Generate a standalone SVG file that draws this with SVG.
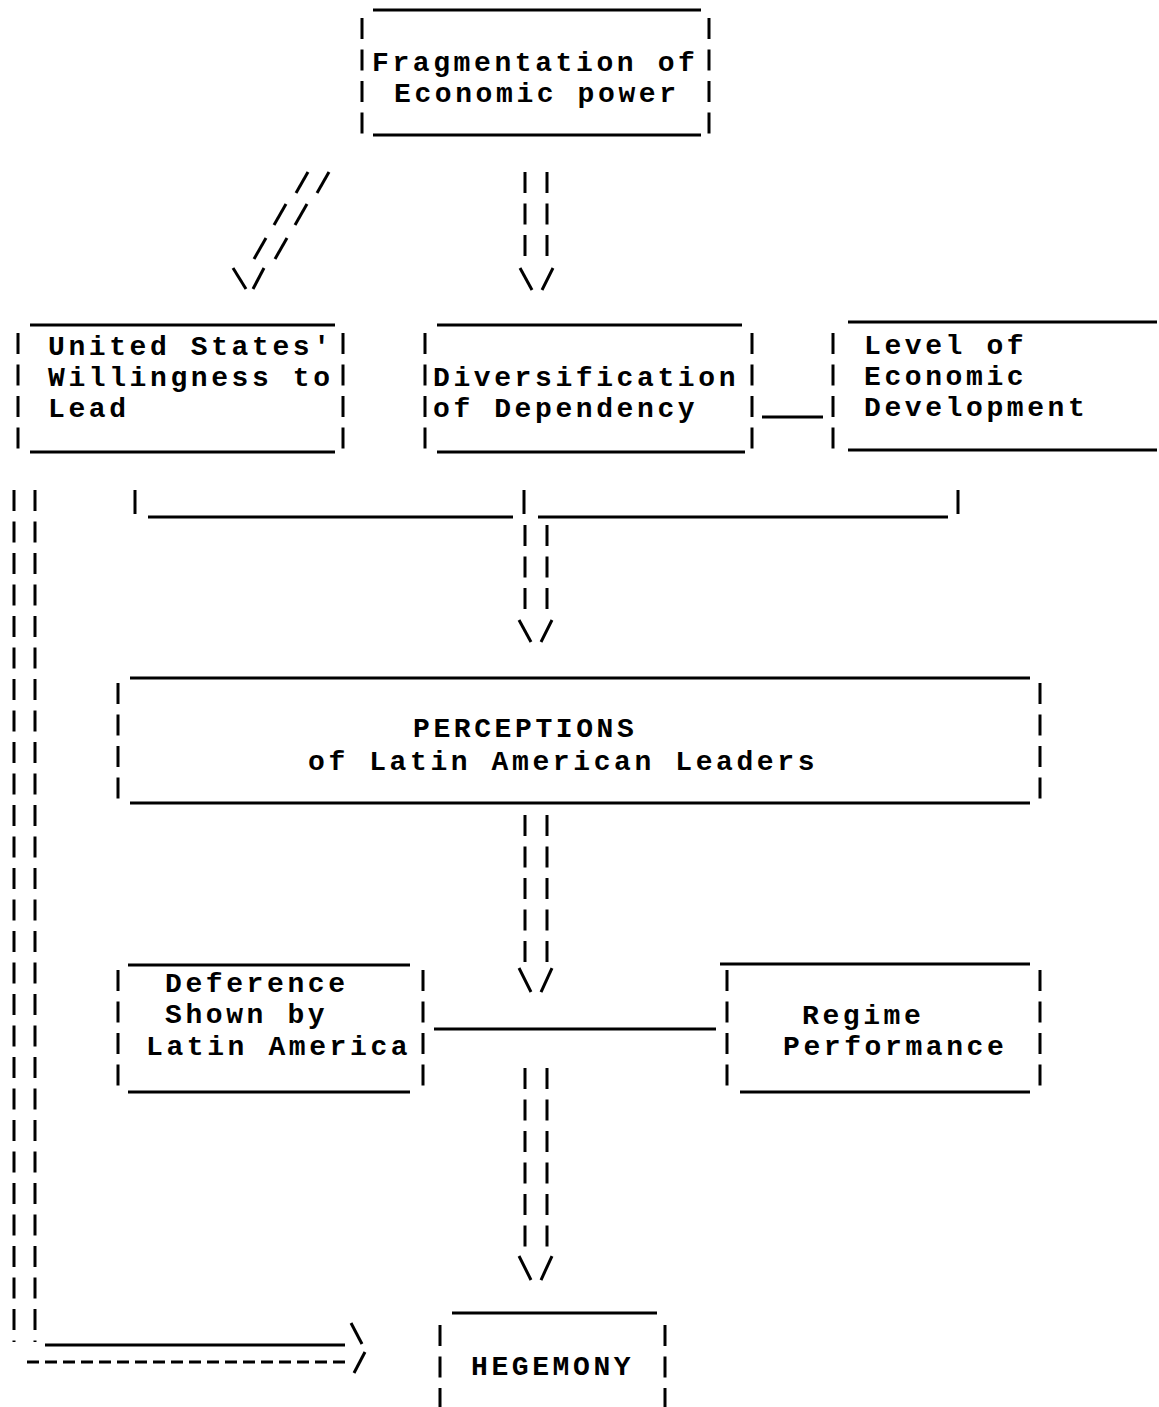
<svg xmlns="http://www.w3.org/2000/svg" width="1159" height="1407" viewBox="0 0 1159 1407">
<style>
text{font-family:"Liberation Mono","DejaVu Sans Mono",monospace;font-weight:bold;font-size:28px;letter-spacing:3.6px;fill:#000}
.h{stroke:#000;stroke-width:3;fill:none}
.v{stroke:#000;stroke-width:3;fill:none;stroke-dasharray:21 10.5}
.s{stroke:#000;stroke-width:3;fill:none}
.d{stroke:#000;stroke-width:3;fill:none;stroke-dasharray:12 6}
</style>
<rect width="1159" height="1407" fill="#fff"/>
<g id="connectors">
  <line class="s" x1="296" y1="193" x2="308" y2="172"/>
  <line class="s" x1="317" y1="193" x2="329" y2="172"/>
  <line class="s" x1="274" y1="225" x2="286" y2="204"/>
  <line class="s" x1="295" y1="225" x2="307" y2="204"/>
  <line class="s" x1="254" y1="259" x2="266" y2="238"/>
  <line class="s" x1="275" y1="259" x2="287" y2="238"/>
  <line class="s" x1="233" y1="268" x2="246" y2="289"/>
  <line class="s" x1="253" y1="289" x2="264" y2="268"/>
  <line class="v" x1="525" y1="172" x2="525" y2="258"/>
  <line class="v" x1="547" y1="172" x2="547" y2="258"/>
  <line class="s" x1="520" y1="268" x2="532" y2="290"/>
  <line class="s" x1="542" y1="290" x2="553" y2="268"/>
  <line class="h" x1="762" y1="417" x2="823" y2="417"/>
  <line class="s" x1="135" y1="490" x2="135" y2="514"/>
  <line class="h" x1="148" y1="517" x2="513" y2="517"/>
  <line class="s" x1="524" y1="490" x2="524" y2="514"/>
  <line class="h" x1="538" y1="517" x2="948" y2="517"/>
  <line class="s" x1="958" y1="490" x2="958" y2="514"/>
  <line class="v" x1="525" y1="525" x2="525" y2="612"/>
  <line class="v" x1="547" y1="525" x2="547" y2="612"/>
  <line class="s" x1="519" y1="620" x2="531" y2="642"/>
  <line class="s" x1="541" y1="642" x2="552" y2="620"/>
  <line class="v" x1="525" y1="815" x2="525" y2="962"/>
  <line class="v" x1="547" y1="815" x2="547" y2="962"/>
  <line class="s" x1="519" y1="968" x2="531" y2="992"/>
  <line class="s" x1="541" y1="992" x2="552" y2="968"/>
  <line class="h" x1="434" y1="1029" x2="716" y2="1029"/>
  <line class="v" x1="525" y1="1068" x2="525" y2="1248"/>
  <line class="v" x1="547" y1="1068" x2="547" y2="1248"/>
  <line class="s" x1="519" y1="1256" x2="531" y2="1280"/>
  <line class="s" x1="541" y1="1280" x2="552" y2="1256"/>
  <line class="v" x1="14" y1="490" x2="14" y2="1342"/>
  <line class="v" x1="35" y1="490" x2="35" y2="1342"/>
  <line class="h" x1="45" y1="1345" x2="345" y2="1345"/>
  <line class="s" x1="351" y1="1323" x2="362" y2="1344"/>
  <line class="d" x1="27" y1="1362" x2="350" y2="1362"/>
  <line class="s" x1="354" y1="1373" x2="365" y2="1352"/>
</g>
<g id="fragmentation">
  <line class="h" x1="373" y1="10" x2="701" y2="10"/>
  <line class="h" x1="373" y1="135" x2="701" y2="135"/>
  <line class="v" x1="362" y1="18" x2="362" y2="135"/>
  <line class="v" x1="709" y1="18" x2="709" y2="135"/>
  <text x="372" y="71">Fragmentation of</text>
  <text x="394" y="102">Economic power</text>
</g>
<g id="us-willingness">
  <line class="h" x1="30" y1="325" x2="335" y2="325"/>
  <line class="h" x1="30" y1="452" x2="335" y2="452"/>
  <line class="v" x1="18" y1="333" x2="18" y2="452"/>
  <line class="v" x1="343" y1="333" x2="343" y2="452"/>
  <text x="48" y="355">United States'</text>
  <text x="48" y="386">Willingness to</text>
  <text x="48" y="417">Lead</text>
</g>
<g id="diversification">
  <line class="h" x1="437" y1="325" x2="742" y2="325"/>
  <line class="h" x1="437" y1="452" x2="745" y2="452"/>
  <line class="v" x1="425" y1="333" x2="425" y2="452"/>
  <line class="v" x1="752" y1="333" x2="752" y2="452"/>
  <text x="433" y="386">Diversification</text>
  <text x="433" y="417">of Dependency</text>
</g>
<g id="level">
  <line class="h" x1="848" y1="322" x2="1157" y2="322"/>
  <line class="h" x1="848" y1="450" x2="1157" y2="450"/>
  <line class="v" x1="833" y1="333" x2="833" y2="452"/>
  <text x="864" y="354">Level of</text>
  <text x="864" y="385">Economic</text>
  <text x="864" y="416">Development</text>
</g>
<g id="perceptions">
  <line class="h" x1="130" y1="678" x2="1030" y2="678"/>
  <line class="h" x1="130" y1="803" x2="1030" y2="803"/>
  <line class="v" x1="118" y1="683" x2="118" y2="803"/>
  <line class="v" x1="1040" y1="683" x2="1040" y2="803"/>
  <text x="413" y="737">PERCEPTIONS</text>
  <text x="308" y="770">of Latin American Leaders</text>
</g>
<g id="deference">
  <line class="h" x1="128" y1="965" x2="410" y2="965"/>
  <line class="h" x1="128" y1="1092" x2="410" y2="1092"/>
  <line class="v" x1="118" y1="970" x2="118" y2="1092"/>
  <line class="v" x1="423" y1="970" x2="423" y2="1092"/>
  <text x="165" y="992">Deference</text>
  <text x="165" y="1023">Shown by</text>
  <text x="146" y="1055">Latin America</text>
</g>
<g id="regime">
  <line class="h" x1="720" y1="964" x2="1030" y2="964"/>
  <line class="h" x1="740" y1="1092" x2="1030" y2="1092"/>
  <line class="v" x1="727" y1="970" x2="727" y2="1092"/>
  <line class="v" x1="1040" y1="970" x2="1040" y2="1092"/>
  <text x="802" y="1024">Regime</text>
  <text x="783" y="1055">Performance</text>
</g>
<g id="hegemony">
  <line class="h" x1="452" y1="1313" x2="657" y2="1313"/>
  <line class="v" x1="440" y1="1325" x2="440" y2="1407"/>
  <line class="v" x1="665" y1="1325" x2="665" y2="1407"/>
  <text x="471" y="1375">HEGEMONY</text>
</g>
</svg>
